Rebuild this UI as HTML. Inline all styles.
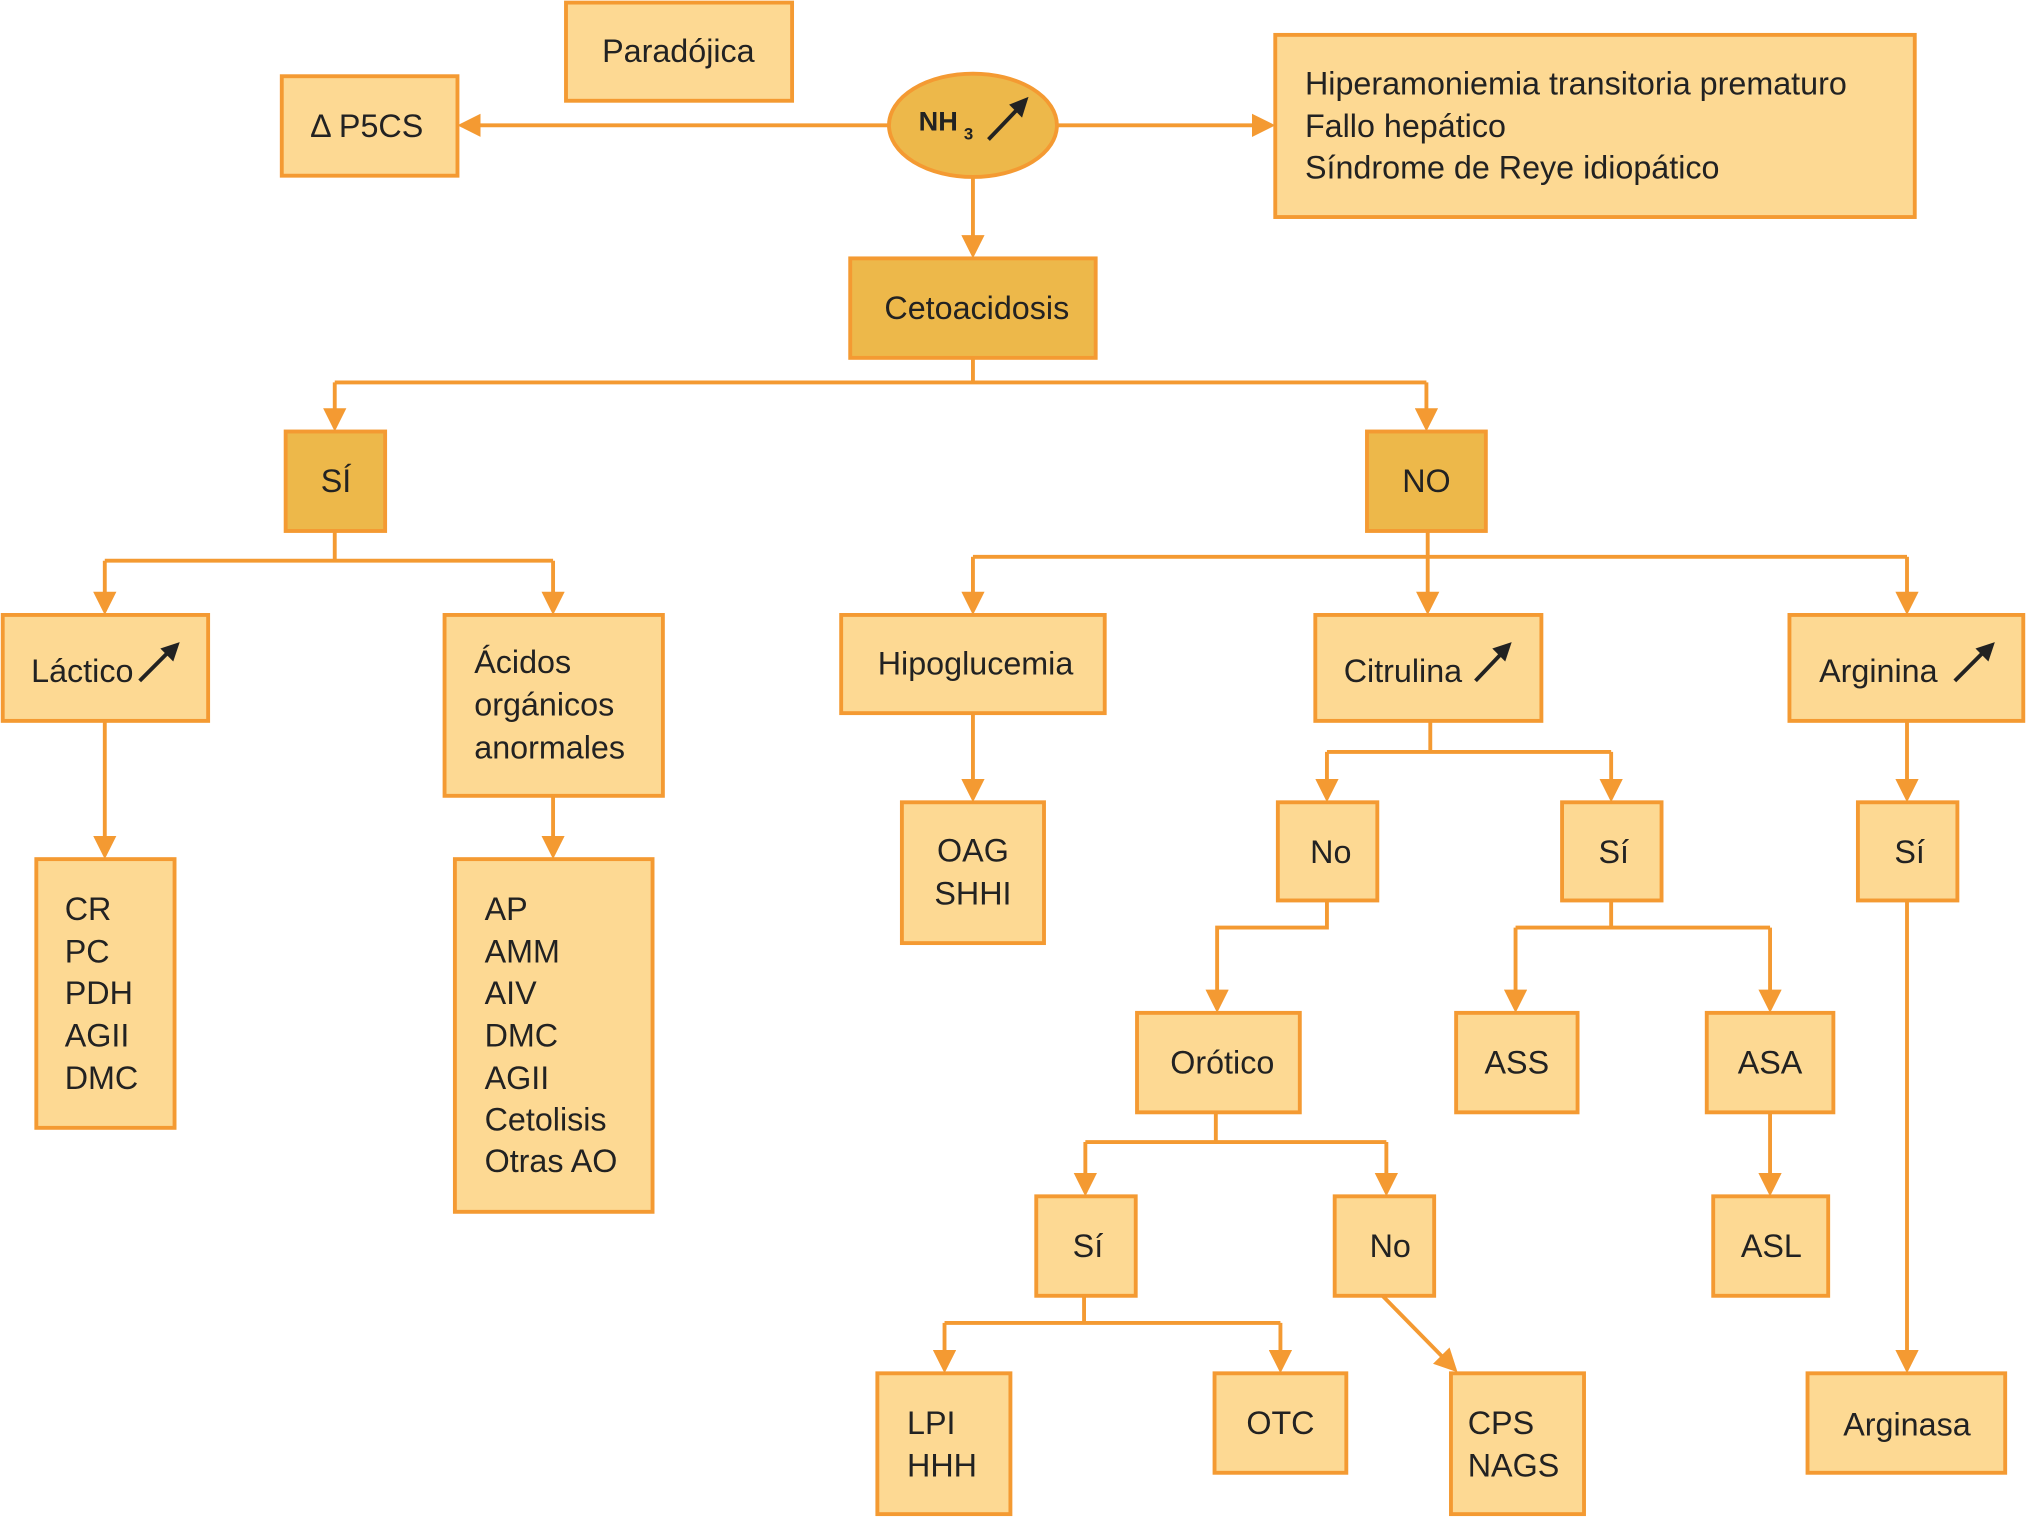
<!DOCTYPE html>
<html><head><meta charset="utf-8"><style>
html,body{margin:0;padding:0;background:#fff}
svg{display:block}
text{font-family:"Liberation Sans",sans-serif;font-size:25px;fill:#222}
.b{fill:#FDD993;stroke:#F49A32;stroke-width:3}
.d{fill:#EDB84A;stroke:#F49A32;stroke-width:3}
.l{stroke:#F49A32;stroke-width:3;fill:none}
.c{text-anchor:middle}
</style></head><body>
<svg width="2026" height="1518" viewBox="0 0 1568 1175" xmlns="http://www.w3.org/2000/svg">
<defs><marker id="a" markerWidth="6" markerHeight="6" refX="5" refY="3" orient="auto" markerUnits="strokeWidth"><path d="M0,0 L6,3 L0,6 z" fill="#F49A32"/></marker></defs>
<g class="l">
<path d="M688,97 H357" marker-end="url(#a)"/>
<path d="M818,97 H984" marker-end="url(#a)"/>
<path d="M753,137 V197" marker-end="url(#a)"/>
<path d="M753,277 V296 M259,296 H1104"/>
<path d="M259,296 V331" marker-end="url(#a)"/><path d="M1104,296 V331" marker-end="url(#a)"/>
<path d="M259,411 V434 M81,434 H428"/>
<path d="M81,434 V473" marker-end="url(#a)"/><path d="M428,434 V473" marker-end="url(#a)"/>
<path d="M1105,411 V431 M753,431 H1476"/>
<path d="M753,431 V473" marker-end="url(#a)"/><path d="M1105,431 V473" marker-end="url(#a)"/><path d="M1476,431 V473" marker-end="url(#a)"/>
<path d="M81,558 V662" marker-end="url(#a)"/>
<path d="M428,616 V662" marker-end="url(#a)"/>
<path d="M753,552 V618" marker-end="url(#a)"/>
<path d="M1107,558 V582 M1027,582 H1247"/>
<path d="M1027,582 V618" marker-end="url(#a)"/><path d="M1247,582 V618" marker-end="url(#a)"/>
<path d="M1476,558 V618" marker-end="url(#a)"/>
<path d="M1476,697 V1060" marker-end="url(#a)"/>
<path d="M1027,697 V718 H942 V781" marker-end="url(#a)"/>
<path d="M1247,697 V718 M1173,718 H1370"/>
<path d="M1173,718 V781" marker-end="url(#a)"/><path d="M1370,718 V781" marker-end="url(#a)"/>
<path d="M941,861 V884 M840,884 H1073"/>
<path d="M840,884 V923" marker-end="url(#a)"/><path d="M1073,884 V923" marker-end="url(#a)"/>
<path d="M1370,861 V923" marker-end="url(#a)"/>
<path d="M839,1003 V1024 M731,1024 H991"/>
<path d="M731,1024 V1060" marker-end="url(#a)"/><path d="M991,1024 V1060" marker-end="url(#a)"/>
<path d="M1070,1003 L1126,1060" marker-end="url(#a)"/>
</g>
<rect class="b" x="438" y="2" width="175" height="76"/><text class="c" x="525" y="48">Paradójica</text>
<rect class="b" x="218" y="59" width="136" height="77"/><text x="240" y="106">Δ P5CS</text>
<ellipse class="d" cx="753" cy="97" rx="65" ry="40"/>
<text x="711" y="101" style="font-weight:bold;font-size:21px">NH</text><text x="746" y="108" style="font-weight:bold;font-size:13px">3</text>
<path d="M765,108 L788,84" stroke="#222" stroke-width="3"/><path d="M796,75 L781,81 L791,91 z" fill="#222"/>
<rect class="b" x="987" y="27" width="495" height="141"/>
<text x="1010" y="73">Hiperamoniemia transitoria prematuro</text><text x="1010" y="106">Fallo hepático</text><text x="1010" y="138">Síndrome de Reye idiopático</text>
<rect class="d" x="658" y="200" width="190" height="77"/><text class="c" x="756" y="247">Cetoacidosis</text>
<rect class="d" x="221" y="334" width="77" height="77"/><text class="c" x="260" y="381">SÍ</text>
<rect class="d" x="1058" y="334" width="92" height="77"/><text class="c" x="1104" y="381">NO</text>
<rect class="b" x="2" y="476" width="159" height="82"/><text x="24" y="528">Láctico</text>
<rect class="b" x="344" y="476" width="169" height="140"/><text x="367" y="521">Ácidos</text><text x="367" y="554">orgánicos</text><text x="367" y="587">anormales</text>
<rect class="b" x="651" y="476" width="204" height="76"/><text class="c" x="755" y="522">Hipoglucemia</text>
<rect class="b" x="1018" y="476" width="175" height="82"/><text x="1040" y="528">Citrulina</text>
<rect class="b" x="1385" y="476" width="181" height="82"/><text x="1408" y="528">Arginina</text>
<g stroke="#222" stroke-width="3"><path d="M108,527 L130,505"/><path d="M1142,527 L1162,506"/><path d="M1513,527 L1535,505"/></g>
<g fill="#222"><path d="M139,497 L124,502 L134,512 z"/><path d="M1170,497 L1155,502 L1165,512 z"/><path d="M1544,497 L1529,502 L1539,512 z"/></g>
<rect class="b" x="28" y="665" width="107" height="208"/>
<text x="50" y="712">CR</text><text x="50" y="745">PC</text><text x="50" y="777">PDH</text><text x="50" y="810">AGII</text><text x="50" y="843">DMC</text>
<rect class="b" x="352" y="665" width="153" height="273"/>
<text x="375" y="712">AP</text><text x="375" y="745">AMM</text><text x="375" y="777">AIV</text><text x="375" y="810">DMC</text><text x="375" y="843">AGII</text><text x="375" y="875">Cetolisis</text><text x="375" y="907">Otras AO</text>
<rect class="b" x="698" y="621" width="110" height="109"/><text class="c" x="753" y="667">OAG</text><text class="c" x="753" y="700">SHHI</text>
<rect class="b" x="989" y="621" width="77" height="76"/><text class="c" x="1030" y="668">No</text>
<rect class="b" x="1209" y="621" width="77" height="76"/><text class="c" x="1249" y="668">Sí</text>
<rect class="b" x="1438" y="621" width="77" height="76"/><text class="c" x="1478" y="668">Sí</text>
<rect class="b" x="880" y="784" width="126" height="77"/><text class="c" x="946" y="831">Orótico</text>
<rect class="b" x="1127" y="784" width="94" height="77"/><text class="c" x="1174" y="831">ASS</text>
<rect class="b" x="1321" y="784" width="98" height="77"/><text class="c" x="1370" y="831">ASA</text>
<rect class="b" x="802" y="926" width="77" height="77"/><text class="c" x="842" y="973">Sí</text>
<rect class="b" x="1033" y="926" width="77" height="77"/><text class="c" x="1076" y="973">No</text>
<rect class="b" x="1326" y="926" width="89" height="77"/><text class="c" x="1371" y="973">ASL</text>
<rect class="b" x="679" y="1063" width="103" height="109"/><text x="702" y="1110">LPI</text><text x="702" y="1143">HHH</text>
<rect class="b" x="940" y="1063" width="102" height="77"/><text class="c" x="991" y="1110">OTC</text>
<rect class="b" x="1123" y="1063" width="103" height="109"/><text x="1136" y="1110">CPS</text><text x="1136" y="1143">NAGS</text>
<rect class="b" x="1399" y="1063" width="153" height="77"/><text class="c" x="1476" y="1111">Arginasa</text>
</svg>
</body></html>
